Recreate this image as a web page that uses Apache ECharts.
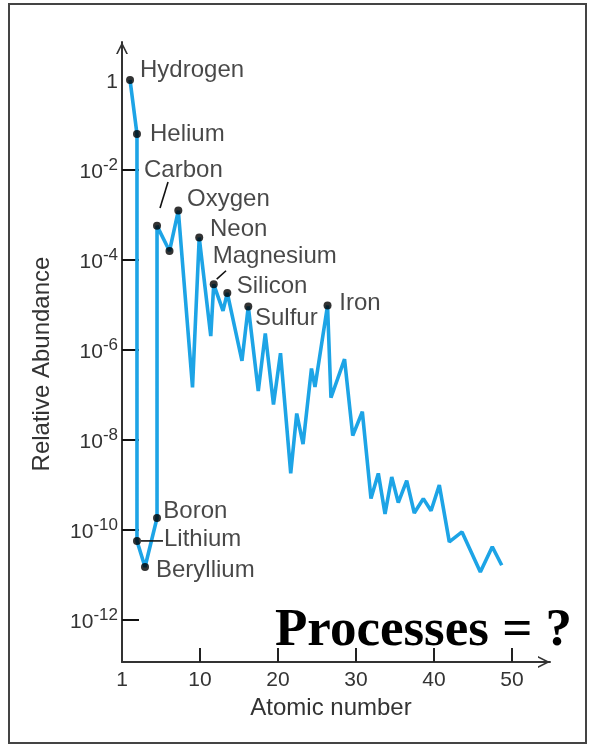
<!DOCTYPE html>
<html><head><meta charset="utf-8">
<script src="https://cdn.jsdelivr.net/npm/echarts@6/dist/echarts.min.js"></script>
<style>html,body{margin:0;padding:0;background:#fff}#c{width:593px;height:744px}</style>
</head><body><div id="c"></div>
<script>
// Atomic number positions as drawn in the figure, and log10 of relative abundance
const atomicNumber = [1.03,1.92,1.92,2.95,4.49,4.49,6.09,7.22,9.04,9.90,11.38,11.76,12.95,13.50,15.38,16.19,17.47,18.37,19.42,20.32,21.63,22.40,23.21,24.29,24.74,26.35,26.79,28.53,29.58,30.81,31.92,32.86,33.72,34.58,35.42,36.50,37.47,38.63,39.62,40.68,41.96,43.59,45.94,47.47,48.68];
const logAbundance = [0,-1.20,-10.24,-10.82,-9.73,-3.24,-3.80,-2.90,-6.83,-3.50,-5.69,-4.54,-5.13,-4.73,-6.24,-5.03,-6.91,-5.63,-7.21,-6.07,-8.74,-7.41,-8.09,-6.41,-6.82,-5.01,-7.06,-6.20,-7.90,-7.37,-9.30,-8.74,-9.64,-8.82,-9.39,-8.90,-9.62,-9.30,-9.57,-9.00,-10.26,-10.04,-10.93,-10.37,-10.78];
const markedIndex = [0,1,2,3,4,5,6,7,9,11,13,15,25];
const markedLabel = ['Hydrogen','Helium','Lithium','Beryllium','Boron','Carbon','','Oxygen','Neon','Magnesium','Silicon','Sulfur','Iron'];
const leaderIndex = [5,11,2];
const xTickValues = [10,20,30,40,50];
const xLabelValues = [0,10,20,30,40,50];
const xLabelText = ['1','10','20','30','40','50'];
const yTickValues = [-12,-10,-8,-6,-4,-2];
const yLabelValues = [-12,-10,-8,-6,-4,-2,0];

// styling / placement tables
const labelOffset = {
  Hydrogen:[6,-9.5], Helium:[9,0.5], Lithium:[23,-2], Beryllium:[7,3], Boron:[2.3,-7],
  Carbon:[-17,-55.3], Oxygen:[4.7,-11], Neon:[6.8,-8], Magnesium:[-5,-27.8],
  Silicon:[5.4,-6.4], Sulfur:[2.7,11.6], Iron:[7.8,-2.5]
};
const leaderSeg = {5:[3,-17.8,11,-43.8], 11:[3,-5.3,12.3,-13.6], 2:[4,0,26,0]};
const SANS = 'Liberation Sans, Arial, sans-serif';
const arrowPath = 'path://M0,10 L5,0 L10,10 L8.5,10 L5,3 L1.5,10 Z';

const chart = echarts.init(document.getElementById('c'), null, {renderer:'canvas'});
chart.setOption({
  animation:false,
  backgroundColor:'#fff',
  grid:{left:122, right:43, top:42, bottom:82},
  graphic:[
    {type:'rect', silent:true, z:-10, shape:{x:9,y:4,width:577,height:739}, style:{fill:'none', stroke:'#444', lineWidth:2}},
    {type:'text', silent:true, z:100, x:275, y:631, style:{text:'Processes = ?', font:'bold 53px "Liberation Serif", "Times New Roman", serif', fill:'#000', textAlign:'left', textVerticalAlign:'middle'}}
  ],
  xAxis:{
    type:'value', min:0, max:54.87,
    splitLine:{show:false},
    axisLine:{show:true, onZero:false, lineStyle:{color:'#333', width:2}, symbol:['none', arrowPath], symbolSize:[12,12], symbolOffset:[0,-6]},
    axisTick:{show:true, inside:true, length:14, lineStyle:{color:'#222', width:2}, customValues:xTickValues},
    axisLabel:{customValues:xLabelValues, margin:8, fontSize:21, color:'#333', fontFamily:SANS,
      formatter:function(v){ const i = xLabelValues.indexOf(v); return i>=0 ? xLabelText[i] : ''; }},
    name:'Atomic number', nameLocation:'middle', nameGap:32,
    nameTextStyle:{fontSize:24, color:'#333', fontFamily:SANS, padding:[0,10,0,0]}
  },
  yAxis:{
    type:'value', min:-12.93, max:0.844,
    splitLine:{show:false},
    axisLine:{show:true, onZero:false, lineStyle:{color:'#333', width:2}, symbol:['none', arrowPath], symbolSize:[12,12], symbolOffset:[0,-6]},
    axisTick:{show:true, inside:true, length:17, lineStyle:{color:'#111', width:2}, customValues:yTickValues},
    axisLabel:{customValues:yLabelValues, margin:4, color:'#333', fontFamily:SANS,
      formatter:function(v){ return v===0 ? '{b|1}' : '{b|10}{s|' + v + '}'; },
      rich:{
        b:{fontSize:21, lineHeight:26, verticalAlign:'bottom', color:'#333', fontFamily:SANS},
        s:{fontSize:17, lineHeight:26, verticalAlign:'top', color:'#333', fontFamily:SANS}
      }},
    name:'Relative Abundance', nameLocation:'middle', nameGap:68,
    nameTextStyle:{fontSize:24, color:'#333', fontFamily:SANS, padding:[0,24,0,0]}
  },
  series:[
    {type:'line', z:2, showSymbol:false, symbol:'none',
     lineStyle:{color:'#1da4e6', width:3.6},
     data: atomicNumber.map(function(x,i){ return [x, logAbundance[i]]; })},
    {type:'custom', z:3, clip:false,
     renderItem:function(params, api){
       const p = api.coord([api.value(0), api.value(1)]);
       const s = leaderSeg[api.value(2)];
       return {type:'line', shape:{x1:p[0]+s[0], y1:p[1]+s[1], x2:p[0]+s[2], y2:p[1]+s[3]}, style:{stroke:'#111', lineWidth:1.6}};
     },
     data: leaderIndex.map(function(i){ return [atomicNumber[i], logAbundance[i], i]; })},
    {type:'scatter', z:4, symbolSize:8, itemStyle:{color:'#000'},
     label:{show:true, position:'right', distance:0, fontSize:24, color:'#1a1a1a', fontFamily:SANS},
     data: markedIndex.map(function(i,k){
       const t = markedLabel[k];
       return {value:[atomicNumber[i], logAbundance[i]],
               label:{show: t !== '', formatter: t, offset: labelOffset[t] || [0,0]}};
     })}
  ]
});
</script></body></html>
